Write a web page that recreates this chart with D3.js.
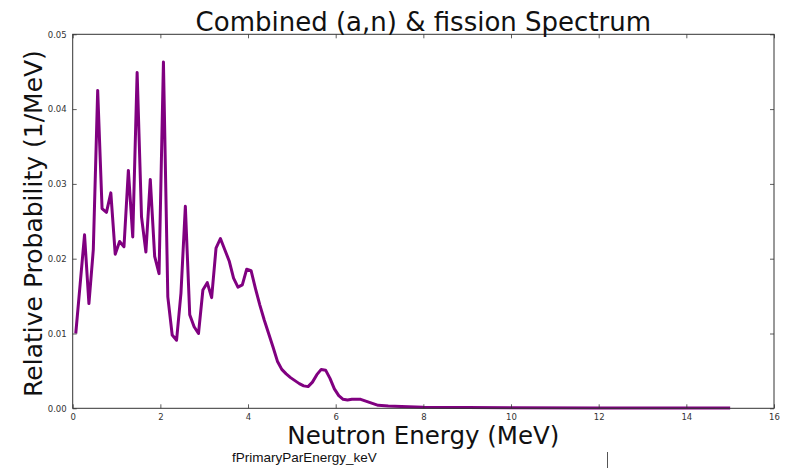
<!DOCTYPE html>
<html>
<head>
<meta charset="utf-8">
<script src="https://cdn.jsdelivr.net/npm/d3@7"></script>
<style>
  body { margin: 0; background: #fff; }
  svg { display: block; }
</style>
</head>
<body>
<div id="chart"></div>
<script>
// neutron energy (MeV) and relative probability (1/MeV)
var energy = [
  0.07, 0.17, 0.27, 0.37, 0.47, 0.57, 0.67, 0.77, 0.87, 0.97,
  1.07, 1.17, 1.27, 1.37, 1.47, 1.57, 1.67, 1.77, 1.87, 1.97,
  2.07, 2.17, 2.27, 2.37, 2.47, 2.57, 2.67, 2.77, 2.87, 2.97,
  3.07, 3.17, 3.27, 3.37, 3.47, 3.57, 3.67, 3.77, 3.87, 3.97,
  4.07, 4.17, 4.27, 4.37, 4.47, 4.57, 4.67, 4.77, 4.87, 4.97,
  5.07, 5.17, 5.27, 5.37, 5.47, 5.57, 5.67, 5.77, 5.87, 5.97,
  6.07, 6.17, 6.27, 6.37, 6.47, 6.57, 6.67, 6.77, 6.87, 6.97,
  7.2, 7.5, 8.0, 9.0, 10.0, 12.0, 15.0
];
var probability = [
  0.0100, 0.0166, 0.0232, 0.0140, 0.0212, 0.0425, 0.0267, 0.0262, 0.0288, 0.0206,
  0.0223, 0.0216, 0.0318, 0.0229, 0.0449, 0.0256, 0.0209, 0.0306, 0.0203, 0.0180,
  0.0463, 0.0149, 0.0098, 0.0091, 0.0154, 0.0270, 0.0125, 0.0109, 0.0100, 0.0158,
  0.0168, 0.0148, 0.0214, 0.0227, 0.0212, 0.0197, 0.0174, 0.0162, 0.0165, 0.0186,
  0.0184, 0.0160, 0.0138, 0.0118, 0.0100, 0.0082, 0.0063, 0.0052, 0.0046, 0.0041,
  0.0037, 0.0033, 0.0030, 0.0029, 0.0035, 0.0045, 0.0052, 0.0051, 0.0040, 0.0026,
  0.0017, 0.0012, 0.0011, 0.0012, 0.0012, 0.0012, 0.0010, 0.0008, 0.0006, 0.0004,
  0.0003, 0.00025, 0.00015, 0.0001, 0.00008, 0.00005, 0.00003
];
var xTicks = [0, 2, 4, 6, 8, 10, 12, 14, 16];
var yTicks = [0.00, 0.01, 0.02, 0.03, 0.04, 0.05];

var W = 786, H = 468;
var margin = {top: 34.3, right: 12, bottom: 59.7, left: 72.7},
    width = W - margin.left - margin.right,
    height = H - margin.top - margin.bottom;

var x = d3.scaleLinear().domain([0, 16]).range([0, width]);
var y = d3.scaleLinear().domain([0, 0.05]).range([height, 0]);

var svg = d3.select("#chart").append("svg")
    .attr("width", W)
    .attr("height", H)
    .style("font-family", "'DejaVu Sans', sans-serif");

svg.append("rect").attr("width", W).attr("height", H).attr("fill", "#fff");

var g = svg.append("g")
    .attr("transform", "translate(" + margin.left + "," + margin.top + ")");

// the spectrum line
var line = d3.line()
    .x(function(d, i) { return x(energy[i]); })
    .y(function(d) { return y(d); });

g.append("path")
    .datum(probability)
    .attr("fill", "none")
    .attr("stroke", "#800080")
    .attr("stroke-width", 3)
    .attr("stroke-linejoin", "round")
    .attr("stroke-linecap", "butt")
    .attr("d", line);

// axes, matplotlib-classic style: ticks pointing inward on all four sides
function styleAxis(sel) {
  sel.select(".domain").remove();
  sel.selectAll(".tick line").attr("stroke", "#333").attr("stroke-width", 0.8);
  sel.selectAll(".tick text").attr("fill", "#333")
     .style("font-size", "8.5px").style("font-family", "'DejaVu Sans', sans-serif");
}

g.append("g")
    .attr("transform", "translate(0," + height + ")")
    .call(d3.axisBottom(x).tickValues(xTicks).tickFormat(d3.format("d"))
          .tickSizeInner(-4).tickSizeOuter(0).tickPadding(6))
    .call(styleAxis);

g.append("g")
    .call(d3.axisTop(x).tickValues(xTicks).tickFormat("")
          .tickSizeInner(-4).tickSizeOuter(0))
    .call(styleAxis);

g.append("g")
    .call(d3.axisLeft(y).tickValues(yTicks).tickFormat(d3.format(".2f"))
          .tickSizeInner(-4).tickSizeOuter(0).tickPadding(6))
    .call(styleAxis);

g.append("g")
    .attr("transform", "translate(" + width + ",0)")
    .call(d3.axisRight(y).tickValues(yTicks).tickFormat("")
          .tickSizeInner(-4).tickSizeOuter(0))
    .call(styleAxis);

// frame
g.append("rect")
    .attr("width", width)
    .attr("height", height)
    .attr("fill", "none")
    .attr("stroke", "#333")
    .attr("stroke-width", 1);

// title and labels
svg.append("text")
    .attr("x", margin.left + width / 2)
    .attr("y", 31)
    .attr("text-anchor", "middle")
    .style("font-size", "26px")
    .attr("fill", "#111")
    .text("Combined (a,n) & fission Spectrum");

svg.append("text")
    .attr("x", margin.left + width / 2)
    .attr("y", 444)
    .attr("text-anchor", "middle")
    .style("font-size", "24.5px")
    .attr("fill", "#111")
    .text("Neutron Energy (MeV)");

svg.append("text")
    .attr("transform", "translate(42," + 223.5 + ") rotate(-90)")
    .attr("text-anchor", "middle")
    .style("font-size", "25px")
    .attr("fill", "#111")
    .text("Relative Probability (1/MeV)");

// stray caption under the figure
svg.append("text")
    .attr("x", 232)
    .attr("y", 462)
    .style("font-family", "'Liberation Sans', Arial, sans-serif")
    .style("font-size", "13.5px")
    .attr("fill", "#111")
    .text("fPrimaryParEnergy_keV");

svg.append("line")
    .attr("x1", 607.5).attr("x2", 607.5)
    .attr("y1", 452).attr("y2", 468)
    .attr("stroke", "#555")
    .attr("stroke-width", 1);
</script>
</body>
</html>
